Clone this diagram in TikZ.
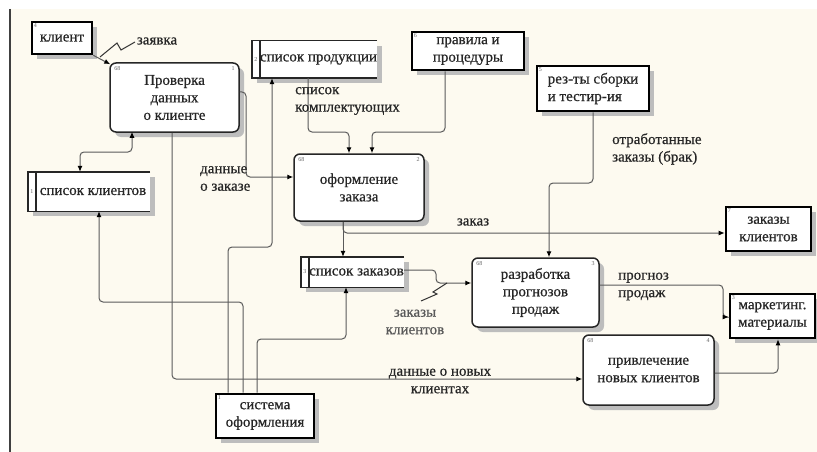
\documentclass[tikz,border=0pt]{standalone}
\usepackage{fontspec}
\setmainfont{Liberation Serif}
\newfontfamily\serfont[FakeBold=0.6]{Liberation Serif}
\usetikzlibrary{arrows.meta,shadows}
\definecolor{bg}{HTML}{FDFAF0}
\definecolor{ln}{HTML}{5A5A5A}
\definecolor{shd}{HTML}{BDBDBD}
\begin{document}
\begin{tikzpicture}[x=1pt,y=-1pt,
  txt/.style={font=\serfont\fontsize{15}{17.5}\selectfont, text=black!85},
  proc/.style={txt, draw=black!85, line width=1.5pt, rounded corners=6pt, fill=white, inner sep=0pt, align=center,
     drop shadow={shadow xshift=5pt, shadow yshift=-5pt, fill=shd, opacity=1}},
  ext/.style={txt, draw=black, line width=2.6pt, fill=white, inner sep=0pt, align=center,
     drop shadow={shadow xshift=5pt, shadow yshift=-5pt, fill=shd, opacity=1}},
  store/.style={txt, fill=white, inner sep=0pt, align=center,
     drop shadow={shadow xshift=5pt, shadow yshift=-5pt, fill=shd, opacity=1}},
  storeline/.style={draw=black!85, line width=1.4pt},
  flow/.style={draw=ln, line width=1pt, rounded corners=4pt, -{Latex[length=6pt,width=5pt,color=black]}},
  biflow/.style={draw=ln, line width=1pt, rounded corners=4pt, {Latex[length=6pt,width=5pt,color=black]}-{Latex[length=6pt,width=5pt,color=black]}},
  squig/.style={draw=black!80, line width=1pt},
  lbl/.style={txt, inner sep=0pt, align=left},
  num/.style={font=\fontsize{6}{6}\selectfont, text=black!60, inner sep=0pt}
]
\useasboundingbox (0,0) rectangle (817,452);
\fill[white] (0,0) rectangle (817,452);
\fill[bg] (11,9) rectangle (817,452);
\draw[black!75, line width=2.5pt] (10,9) -- (10,452);

% processes
\node[proc, minimum width=129pt, minimum height=69pt] (P1) at (174.5,97.5) {Проверка\\данных\\о клиенте};
\node[proc, minimum width=130pt, minimum height=67pt] (P2) at (359,187.5) {оформление\\заказа};
\node[proc, minimum width=127pt, minimum height=69pt] (P3) at (535.5,292.5) {разработка\\прогнозов\\продаж};
\node[proc, minimum width=131pt, minimum height=70pt] (P4) at (648.5,370) {привлечение\\новых клиентов};
\foreach \p/\n in {P1/1,P2/2,P3/3,P4/4}{
  \node[num, anchor=north west] at ([shift={(5,4)}]\p.north west) {68};
  \node[num, anchor=north east] at ([shift={(-5,4)}]\p.north east) {\n};
}

% external entities
\node[ext, minimum width=60pt, minimum height=32pt] (E1) at (62,38) {клиент};
\node[ext, minimum width=112pt, minimum height=38pt] (E2) at (468,51) {правила и\\процедуры};
\node[ext, minimum width=112pt, minimum height=45pt, align=left] (E3) at (593,88.5) {рез-ты сборки\\и тестир-ия};
\node[ext, minimum width=85pt, minimum height=44pt] (E4) at (768.5,229) {заказы\\клиентов};
\node[ext, minimum width=85pt, minimum height=44pt] (E5) at (772.5,316) {маркетинг.\\материалы};
\node[ext, minimum width=98pt, minimum height=44pt] (E6) at (265,416) {система\\оформления};
\foreach \e/\n in {E1/4,E2/6,E3/5,E4/7,E5/3,E6/1}{
  \node[num, anchor=north west] at ([shift={(3,3)}]\e.north west) {\n};
}

% data stores
\node[store, minimum width=125pt, minimum height=37pt] (D1) at (314.5,59.5) {\hspace{8pt}список продукции};
\node[store, minimum width=122pt, minimum height=39pt] (D2) at (89,191.5) {\hspace{8pt}список клиентов};
\node[store, minimum width=93pt, minimum height=30pt] (D3) at (352.5,272) {\hspace{8pt}список заказов};
\foreach \d/\n in {D1/2,D2/1,D3/3}{
  \draw[storeline] (\d.north east) -- (\d.north west) -- (\d.south west) -- (\d.south east);
  \draw[storeline] ([xshift=8pt]\d.north west) -- ([xshift=8pt]\d.south west);
  \node[num] at ([xshift=4pt]\d.west) {\n};
}

% flows
\draw[flow] (E1.south east) -- ([shift={(1,2)}]P1.north west);
\draw[squig] (100,57) -- (117,43) -- (121,50) -- (135,42);
\node[lbl] (l1) at (157,41) {заявка};

\draw[biflow] ([yshift=1pt]P1.south -| 132,0) |- (80,152) -- (D2.north -| 80,0);

\draw[flow] (P1.east |- 0,92) -- (246,92) |- (P2.west |- 0,177);
\node[lbl, anchor=west] (l2) at (200,178.5) {данные\\о заказе};

\draw[flow] (P1.south -| 172,0) |- (P4.west |- 0,379);
\node[txt, align=center, inner sep=0pt] (l3) at (440,381) {данные о новых\\клиентах};

\draw[flow] (E6.north -| 243,0) |- (99,302) -- (D2.south -| 99,0);
\draw[flow] (E6.north -| 228,0) |- (272,247) -- (D1.south -| 272,0);
\draw[flow] (E6.north -| 257,0) |- (346,339) -- (D3.south -| 346,0);

\draw[flow] (D1.south -| 308,0) |- (349,132) -- (P2.north -| 349,0);
\node[lbl, anchor=west] (l4) at (295,101) {список\\комплектующих};
\draw[flow] (E2.south -| 445,0) |- (372,132) -- (P2.north -| 372,0);

\draw[flow] (P2.south -| 343,0) -- (D3.north -| 343,0);
\draw[flow] (P2.south -| 343,0) |- (E4.west |- 0,233);
\node[lbl] (l5) at (473,222) {заказ};

\draw[flow] (E3.south -| 593,0) |- (549,183) -- (P3.north -| 549,0);
\node[lbl, anchor=west] (l6) at (612,149) {отработанные\\заказы (брак)};

\draw[flow] (D3.east |- 0,270) -| (436,283) -- (P3.west |- 0,283);
\draw[squig] (447,283) -- (433,292) -- (437,294) -- (421,301);
\node[txt, align=center, inner sep=0pt, text=black!65] (l7) at (415,322) {заказы\\клиентов};

\draw[flow] (P3.east |- 0,285) -| (723,317) -- (E5.west |- 0,317);
\node[lbl, anchor=west] (l8) at (618,286.5) {прогноз\\продаж};

\draw[flow] (P4.east |- 0,373) -| (E5.south -| 778,0);
\end{tikzpicture}
\end{document}
